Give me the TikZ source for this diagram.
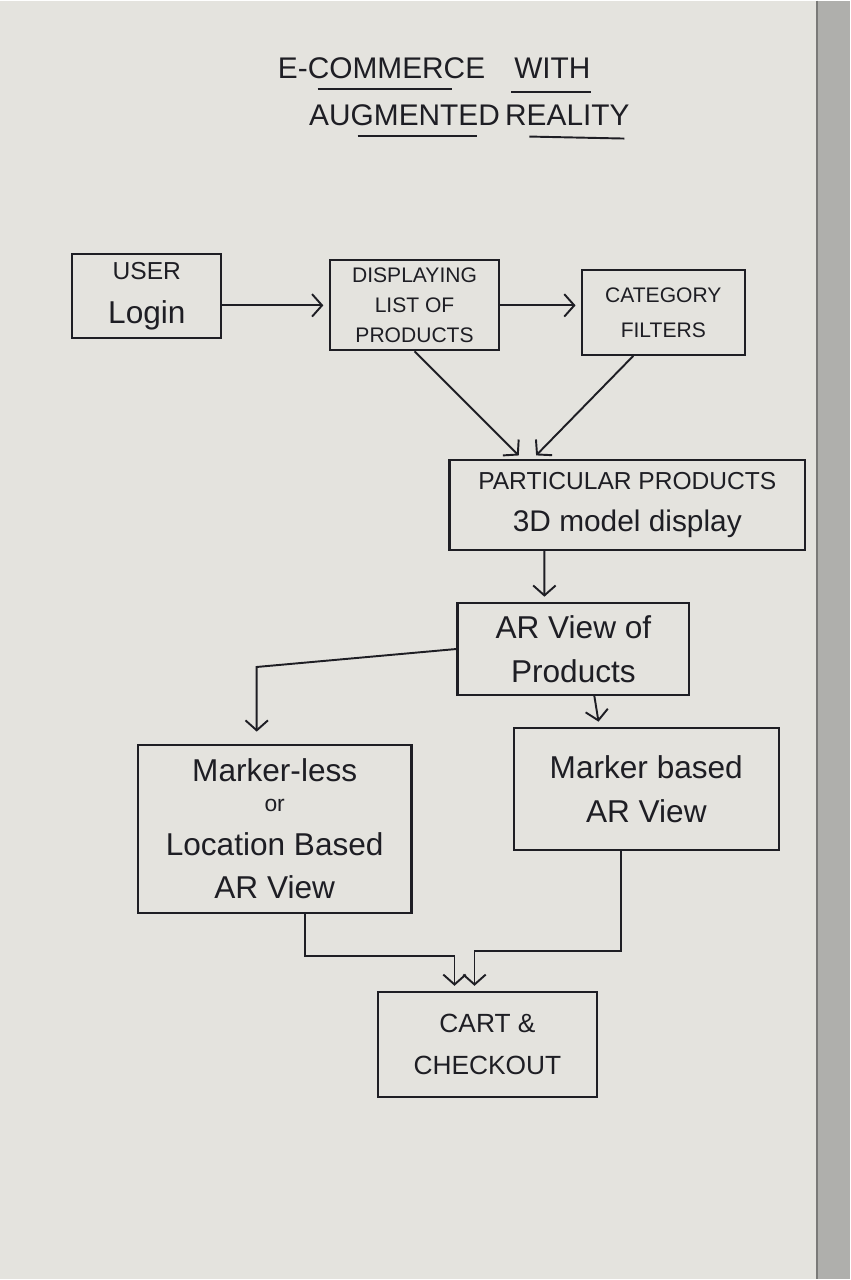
\documentclass[tikz,border=0pt]{standalone}
\usepackage{fontspec}
\setmainfont{Liberation Sans}
\usetikzlibrary{arrows.meta}
\definecolor{paper}{RGB}{228,227,222}
\definecolor{ink}{RGB}{30,30,36}
\definecolor{edge}{RGB}{175,175,172}
\tikzset{
  blk/.style={draw=ink, line width=1.2pt, inner sep=2pt, align=center, text=ink},
  conn/.style={draw=ink, line width=1.1pt, -{Straight Barb[length=2mm,width=4.5mm]}, shorten >=3pt},
  caps/.style={font=\fontsize{12}{17}\selectfont},
  hand/.style={font=\fontsize{18}{25}\selectfont},
  ttl/.style={font=\fontsize{17}{20}\selectfont, text=ink, inner sep=0pt},
}
\begin{document}
\begin{tikzpicture}[x=0.02cm, y=-0.02cm]
        % page
        \fill[paper] (0,0) rectangle (851,1280);
        \fill[edge] (818,0) rectangle (851,1280);
        \draw[edge!70!black, thick] (818,0) -- (818,1280);

        % title
        \node[ttl] (tecom) at (382,68) {E-COMMERCE};
        \node[ttl] (twith) at (553,68) {WITH};
        \node[ttl] (taug) at (405,115) {AUGMENTED};
        \node[ttl] (treal) at (568,115) {REALITY};
        \draw[ink, line width=1.1pt] (318,88) -- (452,88);
        \draw[ink, line width=1.1pt] (512,91) -- (592,91);
        \draw[ink, line width=1.1pt] (358,135) -- (478,135);
        \draw[ink, line width=1.1pt] (530,136) -- (625,138);

        % row1
        \node[blk, hand, minimum width=2.98cm, minimum height=1.68cm] (login) at (147,296)
            {{\fontsize{14}{18}\selectfont USER}\\Login};
        \node[blk, caps, minimum width=3.4cm, minimum height=1.8cm] (disp) at (415,305)
            {DISPLAYING\\LIST OF\\PRODUCTS};
        \node[blk, caps, minimum width=3.26cm, minimum height=1.7cm] (cat) at (664,312)
            {CATEGORY\\[3pt]FILTERS};

        % row2
        \node[blk, font=\fontsize{14}{24}\selectfont, minimum width=7.12cm, minimum height=1.8cm] (part) at (628,505)
            {PARTICULAR PRODUCTS\\{\fontsize{17}{20}\selectfont 3D model display}};

        % row3
        \node[blk, hand, minimum width=4.64cm, minimum height=1.84cm] (arview) at (574,649)
            {AR View of\\Products};

        % row4
        \node[blk, hand, minimum width=5.48cm, minimum height=3.36cm] (mless) at (275,829)
            {Marker-less\\[-8pt]{\fontsize{13}{15}\selectfont or}\\Location Based\\AR View};
        \node[blk, hand, minimum width=5.3cm, minimum height=2.44cm] (mbased) at (647,789)
            {Marker based\\AR View};

        % row5
        \node[blk, font=\fontsize{15}{24}\selectfont, minimum width=4.4cm, minimum height=2.1cm] (cart) at (488,1045)
            {CART \&\\CHECKOUT};

        % arrows
        \draw[conn] (login.east |- disp.west) -- (disp.west);
        \draw[conn] (disp.east) -- (disp.east -| cat.west);
        \draw[conn] (disp.south) -- ([xshift=-2.1cm]part.north);
        \draw[conn] ([xshift=-0.6cm]cat.south) -- ([xshift=-1.9cm]part.north);
        \draw[conn] ([xshift=-1.66cm]part.south) -- ([xshift=-0.58cm]arview.north);
        \draw[conn] (arview.west) -- ++(-200,18) -- ++(0,70);
        \draw[conn] ([xshift=0.42cm]arview.south) -- ([xshift=-0.94cm]mbased.north);
        \draw[conn] ([xshift=0.6cm]mless.south) -- ++(0,42) -| ([xshift=-0.66cm]cart.north);
        \draw[conn] ([xshift=-0.5cm]mbased.south) -- ++(0,100) -| ([xshift=-0.26cm]cart.north);
\end{tikzpicture}
\end{document}
